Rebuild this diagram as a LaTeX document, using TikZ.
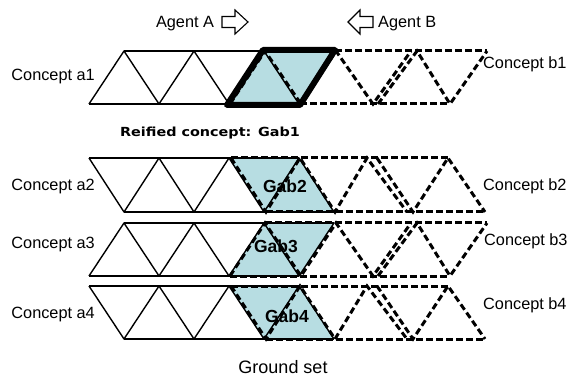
\documentclass[tikz,border=0pt]{standalone}
\usepackage{fontspec}
\setmainfont{Liberation Sans}
\newfontfamily\heavyfont{DejaVu Sans}[BoldFont={DejaVu Sans Bold}]
\begin{document}
\begin{tikzpicture}[x=1pt,y=-1pt,
  aline/.style={line width=1.4pt, line join=round},
  bline/.style={line width=3pt, dash pattern=on 6.5pt off 3.5pt},
  bold/.style={line width=6pt, line join=round, line cap=round},
  lab/.style={inner sep=0pt, font=\fontsize{16.3}{18}\selectfont},
  gab/.style={inner sep=0pt, font=\fontsize{17.5}{20}\selectfont\bfseries},
  blockarrow/.style={line width=1.1pt, line join=miter, fill=white}]
\definecolor{overlap}{RGB}{183,221,226}
\useasboundingbox (0,0) rectangle (567,379);

% ---------- shared region of the two concepts in each row ----------
\fill[overlap] (229,104) -- (264,51) -- (334,51) -- (299,104) -- cycle;
\fill[overlap] (229,158) -- (299,158) -- (334,212) -- (264,212) -- cycle;
\fill[overlap] (229,276) -- (264,223) -- (334,223) -- (299,276) -- cycle;
\fill[overlap] (229,286) -- (299,286) -- (334,339) -- (264,339) -- cycle;

% ---------- concepts of agent A (solid triangle strips) ----------
% rows whose strip starts with an upright triangle
\foreach \t/\b in {51/104, 223/276}{
  \draw[aline] (89,\b) -- (124,\t) -- (159,\b) -- (194,\t) -- (229,\b) -- (264,\t) -- (299,\b) -- (334,\t);
  \draw[aline] (124,\t) -- (334,\t);
  \draw[aline] (89,\b) -- (299,\b);
}
% rows whose strip starts with an inverted triangle
\foreach \t/\b in {158/212, 286/339}{
  \draw[aline] (89,\t) -- (124,\b) -- (159,\t) -- (194,\b) -- (229,\t) -- (264,\b) -- (299,\t) -- (334,\b);
  \draw[aline] (89,\t) -- (299,\t);
  \draw[aline] (124,\b) -- (334,\b);
}

% ---------- concepts of agent B (dashed triangle strips) ----------
\foreach \t/\b in {51/104, 223/276}{
  \draw[bline] (230,\b) -- (265,\t) -- (301,\b) -- (336,\t) -- (373,\b) -- (411,\t);
  \draw[bline] (378,\b) -- (417,\t) -- (450,\b) -- (487,\t);
  \draw[bline] (265,\t) -- (487,\t);
  \draw[bline] (230,\b) -- (450,\b);
}
\foreach \t/\b in {158/212, 286/339}{
  \draw[bline] (231,\t) -- (266,\b) -- (300,\t) -- (335,\b) -- (367,\t) -- (407,\b);
  \draw[bline] (377,\t) -- (413,\b) -- (448,\t) -- (485,\b);
  \draw[bline] (231,\t) -- (448,\t);
  \draw[bline] (266,\b) -- (485,\b);
}

% ---------- reified concept outline ----------
\draw[bold] (227,105) -- (263,50) -- (335,50) -- (300,105) -- cycle;

% ---------- agents and their directions ----------
\node[lab, anchor=base] (agA) at (185,28) {Agent A};
\draw[blockarrow] (222,16.5) -- (235,16.5) -- (235,10) -- (248,22) -- (235,34) -- (235,27.5) -- (222,27.5) -- cycle;
\draw[blockarrow] (373,16.5) -- (360,16.5) -- (360,10) -- (348,22) -- (360,34) -- (360,27.5) -- (373,27.5) -- cycle;
\node[lab, anchor=base west] (agB) at (378,28) {Agent B};

% ---------- concept labels ----------
\node[lab, anchor=base east] (ca1) at (95,81) {Concept a1};
\node[lab, anchor=base east] (ca2) at (95,191) {Concept a2};
\node[lab, anchor=base east] (ca3) at (95,248) {Concept a3};
\node[lab, anchor=base east] (ca4) at (95,318) {Concept a4};
\node[lab, anchor=base west] (cb1) at (483,69) {Concept b1};
\node[lab, anchor=base west] (cb2) at (483,191) {Concept b2};
\node[lab, anchor=base west] (cb3) at (484,246) {Concept b3};
\node[lab, anchor=base west] (cb4) at (483,309) {Concept b4};

% ---------- reified concepts ----------
\node[inner sep=0pt, anchor=base] (gab1) at (210,136.5)
  {\scalebox{1.15}[1]{\fontsize{12.5}{14}\heavyfont\bfseries Reified concept: Gab1}};
\node[gab, anchor=base] (gab2) at (285,193) {Gab2};
\node[gab, anchor=base] (gab3) at (276,253) {Gab3};
\node[gab, anchor=base] (gab4) at (287,322) {Gab4};

\node[lab, anchor=base] (ground) at (283,373) {\fontsize{18}{20}\selectfont Ground set};
\end{tikzpicture}
\end{document}
